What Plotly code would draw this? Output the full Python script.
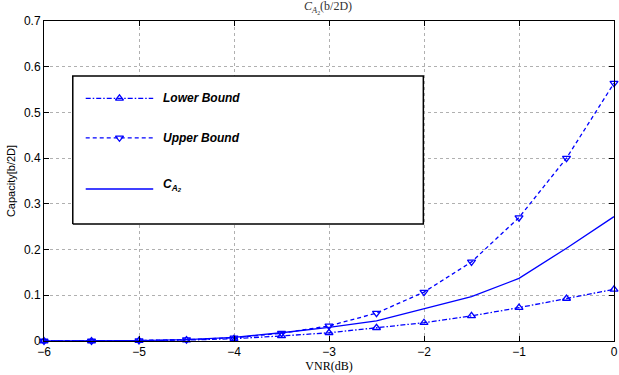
import plotly.graph_objects as go

vnr = [-6, -5.5, -5, -4.5, -4, -3.5, -3, -2.5, -2, -1.5, -1, -0.5, 0]
lower = [0.0, 0.0, 0.001, 0.002, 0.005, 0.011, 0.018, 0.029, 0.040, 0.055, 0.073, 0.093, 0.113]
upper = [0.0, 0.0, 0.001, 0.003, 0.007, 0.017, 0.033, 0.061, 0.107, 0.173, 0.270, 0.400, 0.564]
capacity = [0.0, 0.0, 0.001, 0.003, 0.008, 0.018, 0.030, 0.044, 0.070, 0.097, 0.137, 0.203, 0.272]

x_ticks = [-6, -5, -4, -3, -2, -1, 0]
y_ticks = [0, 0.1, 0.2, 0.3, 0.4, 0.5, 0.6, 0.7]

blue = "rgb(0,0,255)"

fig = go.Figure()
fig.add_trace(go.Scatter(x=vnr, y=lower, mode="lines+markers",
                         line=dict(color=blue, width=1.3, dash="5px,2px,1.5px,2px"),
                         marker=dict(symbol="triangle-up-open", size=7, color=blue, line=dict(width=1.3)),
                         showlegend=False, cliponaxis=False))
fig.add_trace(go.Scatter(x=vnr, y=upper, mode="lines+markers",
                         line=dict(color=blue, width=1.3, dash="4px,3px"),
                         marker=dict(symbol="triangle-down-open", size=7, color=blue, line=dict(width=1.3)),
                         showlegend=False, cliponaxis=False))
fig.add_trace(go.Scatter(x=vnr, y=capacity, mode="lines",
                         line=dict(color=blue, width=1.3),
                         showlegend=False))

# manual legend (MATLAB style box)
xr = (-6, 0)
yr = (0, 0.7)
def dx(f):
    return xr[0] + f * (xr[1] - xr[0])
def dy(f):
    return yr[0] + f * (yr[1] - yr[0])

bx0, bx1, by0, by1 = 0.0505, 0.6655, 0.366, 0.828
fig.add_trace(go.Scatter(x=[dx(bx0), dx(bx1), dx(bx1), dx(bx0), dx(bx0)],
                         y=[dy(by0), dy(by0), dy(by1), dy(by1), dy(by0)],
                         mode="lines", fill="toself", fillcolor="white",
                         line=dict(color="black", width=1.5), showlegend=False, hoverinfo="skip"))

rows = [0.758, 0.635, 0.475]
line_x = [0.0732, 0.1916]
mark_x = 0.1324
styles = [("5px,2px,1.5px,2px", "triangle-up-open"), ("4px,3px", "triangle-down-open"), ("solid", None)]
for r, (dash, sym) in zip(rows, styles):
    fig.add_trace(go.Scatter(x=[dx(line_x[0]), dx(line_x[1])], y=[dy(r), dy(r)], mode="lines",
                             line=dict(color=blue, width=1.3, dash=dash), showlegend=False,
                             hoverinfo="skip"))
    if sym:
        fig.add_trace(go.Scatter(x=[dx(mark_x)], y=[dy(r)], mode="markers",
                                 marker=dict(symbol=sym, size=7, color=blue, line=dict(width=1.3)),
                                 showlegend=False, hoverinfo="skip"))

labels = ["<b><i>Lower Bound</i></b>", "<b><i>Upper Bound</i></b>",
          "<b><i>C<sub>A<sub>2</sub></sub></i></b>"]
for r, lab in zip(rows, labels):
    fig.add_annotation(x=0.205, y=r + (0.012 if lab.startswith("<b><i>C") else 0),
                       xref="x domain", yref="y domain",
                       text=lab, showarrow=False, xanchor="left", yanchor="middle",
                       font=dict(family="Liberation Sans, Arial", size=12, color="black"))

axis_common = dict(showline=True, linecolor="black", linewidth=1, mirror="ticks",
                   ticks="inside", ticklen=5, tickcolor="black",
                   showgrid=True, gridcolor="#b0b0b0", griddash="dot", gridwidth=1,
                   zeroline=False, ticklabeloverflow="allow",
                   tickfont=dict(family="Liberation Sans, Arial", size=12, color="black"))

fig.update_xaxes(range=list(xr), tickvals=x_ticks, **axis_common,
                 title=dict(text="VNR(dB)", standoff=2,
                            font=dict(family="Liberation Serif, Times New Roman", size=12, color="black")))
fig.update_yaxes(range=list(yr), tickvals=y_ticks, ticktext=["0", "0.1", "0.2", "0.3", "0.4", "0.5", "0.6", "0.7"],
                 **axis_common,
                 title=dict(text="Capacity[b/2D]", standoff=6,
                            font=dict(family="Liberation Sans, Arial", size=11, color="black")))

fig.update_layout(
    width=619, height=375,
    margin=dict(l=44, r=1, t=21, b=34),
    paper_bgcolor="white", plot_bgcolor="white",
    title=dict(text="<i>C</i><sub><i>A</i><sub>2</sub></sub>(b/2D)", x=0.53, xanchor="center",
               y=0.995, yanchor="top",
               font=dict(family="Liberation Serif, Times New Roman", size=12, color="#333333")),
)

fig.write_html("out.html")
